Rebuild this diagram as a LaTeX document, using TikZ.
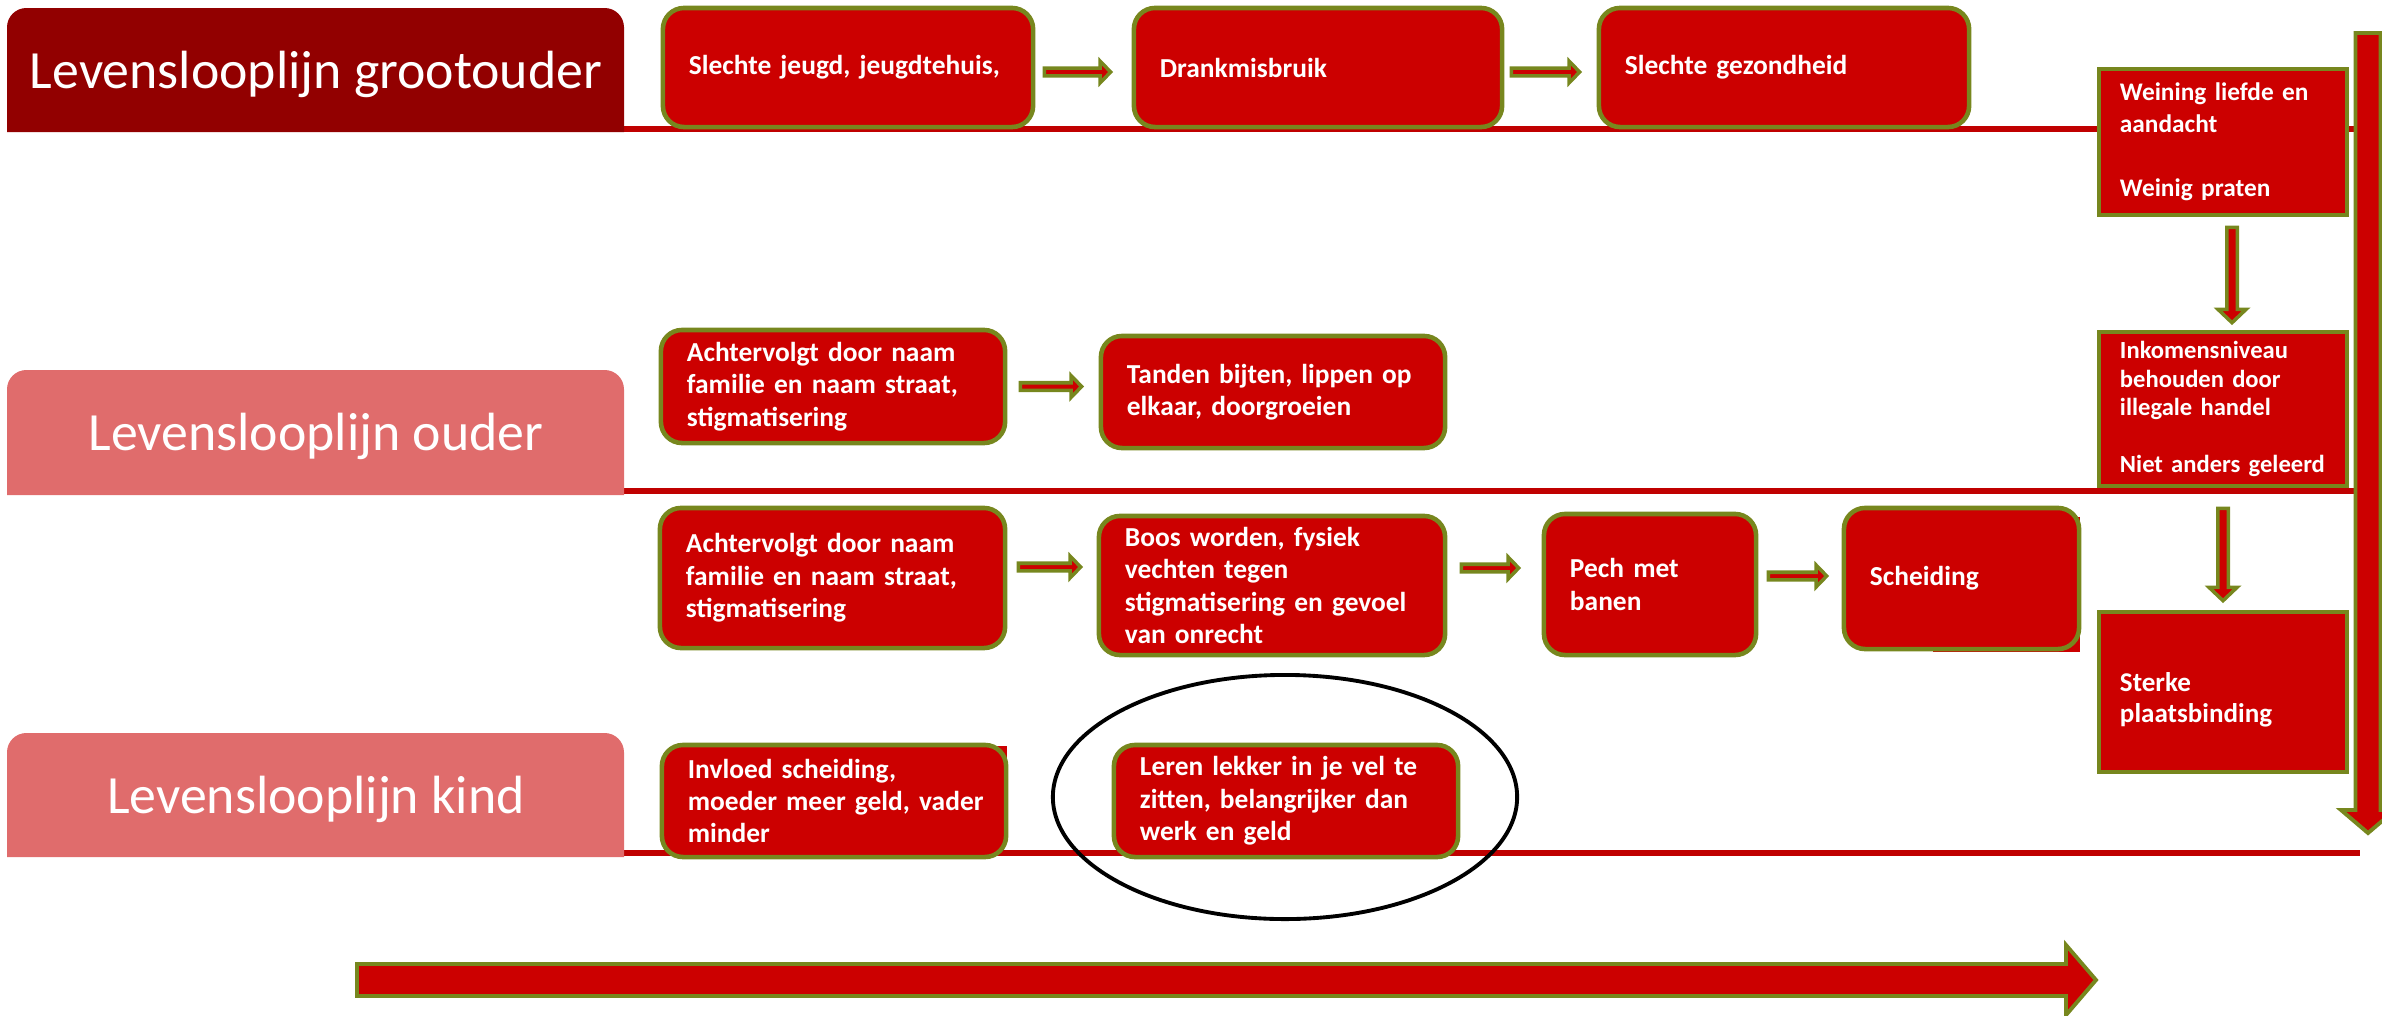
\documentclass[tikz,border=0pt]{standalone}
\usepackage{fontspec}
\setmainfont{Carlito}
\usetikzlibrary{calc}
\definecolor{boxred}{HTML}{CC0000}
\definecolor{linered}{HTML}{C00000}
\definecolor{olivebd}{HTML}{77871E}
\definecolor{darktitle}{HTML}{920000}
\definecolor{salmon}{HTML}{E06C6C}
\newcommand\harr[2]{\draw[blockarr] let \p1=#1, \p2=#2 in
  (\x1,\y1+1.07pt) -- (\x2-3pt,\y1+1.07pt) -- (\x2-3pt,\y1+3.1pt) -- (\x2,\y1) -- (\x2-3pt,\y1-3.1pt) -- (\x2-3pt,\y1-1.07pt) -- (\x1,\y1-1.07pt) -- cycle;}
\newcommand\varr[2]{\draw[blockarr] let \p1=#1, \p2=#2 in
  (\x1+1.5pt,\y1) -- (\x1+1.5pt,\y2+3.8pt) -- (\x1+4pt,\y2+3.8pt) -- (\x1,\y2) -- (\x1-4pt,\y2+3.8pt) -- (\x1-1.5pt,\y2+3.8pt) -- (\x1-1.5pt,\y1) -- cycle;}
\begin{document}
\begin{tikzpicture}[x=0.01cm,y=-0.01cm,
  box/.style={draw=olivebd,fill=boxred,line width=1.3pt,rounded corners=6pt,text=white,align=left,
    inner xsep=0.26cm,inner ysep=0pt,font=\bfseries\fontsize{7.8}{9.2}\selectfont},
  sqbox/.style={box,rounded corners=0pt,inner xsep=0.21cm},
  blockarr/.style={draw=olivebd,fill=boxred,line width=1pt},
  tline/.style={draw=linered,line width=1.7pt},
  titletext/.style={text=white,font=\fontsize{15.3}{18}\selectfont,anchor=base,inner sep=0pt}]
\useasboundingbox (0,0) rectangle (2382,1015);
\clip (0,0) rectangle (2382,1015);

% timeline rules
\draw[tline] (624,129) -- (2360,129);
\draw[tline] (624,491) -- (2360,491);
\draw[tline] (624,853) -- (2360,853);

% title boxes
\fill[darktitle] (7,132) [rounded corners=5.5pt] -- (7,8) -- (624,8) [sharp corners] -- (624,132) -- cycle;
\fill[salmon] (7,495) [rounded corners=5.5pt] -- (7,370) -- (624,370) [sharp corners] -- (624,495) -- cycle;
\fill[salmon] (7,857) [rounded corners=5.5pt] -- (7,733) -- (624,733) [sharp corners] -- (624,857) -- cycle;
\node[titletext] (t1) at (316,88) {Levenslooplijn grootouder};
\node[titletext] (t2) at (316,450) {Levenslooplijn ouder};
\node[titletext] (t3) at (316,813) {Levenslooplijn kind};

% shadow rectangles
\fill[boxred] (1933,517) rectangle (2080,652);
\fill[boxred] (900,746) rectangle (1007,800);

% row grootouder
\node[box,minimum width=3.70cm,minimum height=1.19cm,text width=3.18cm] (a1) at (848,67.5) {Slechte jeugd, jeugdtehuis,};
\node[box,minimum width=3.68cm,minimum height=1.19cm,text width=3.16cm] (a2) at (1318,67.5) {Drankmisbruik};
\node[box,minimum width=3.70cm,minimum height=1.19cm,text width=3.18cm] (a3) at (1784,67.5) {Slechte gezondheid};
\node[sqbox,minimum width=2.48cm,minimum height=1.46cm,text width=2.06cm,font=\bfseries\fontsize{7.2}{9.1}\selectfont] (w) at (2223,142)
  {\mbox{Weining liefde en}\\aandacht\\\mbox{}\\Weinig praten};

% row ouder
\node[box,minimum width=3.44cm,minimum height=1.13cm,text width=2.92cm] (b1) at (833,386.5) {Achtervolgt door naam\\familie en naam straat,\\stigmatisering};
\node[box,minimum width=3.44cm,minimum height=1.12cm,text width=2.92cm] (b2) at (1273,392) {Tanden bijten, lippen op\\elkaar, doorgroeien};
\node[sqbox,minimum width=2.48cm,minimum height=1.54cm,text width=2.06cm,font=\bfseries\fontsize{7.0}{8.1}\selectfont] (i) at (2223,409)
  {Inkomensniveau\\behouden door\\illegale handel\\\mbox{}\\\mbox{Niet anders geleerd}};

% middle row
\node[box,minimum width=3.45cm,minimum height=1.40cm,text width=2.93cm] (c1) at (832.5,578) {Achtervolgt door naam\\familie en naam straat,\\stigmatisering};
\node[box,minimum width=3.46cm,minimum height=1.39cm,text width=2.94cm] (c2) at (1272,585.5) {Boos worden, fysiek\\vechten tegen\\\mbox{stigmatisering en gevoel}\\van onrecht};
\node[box,minimum width=2.12cm,minimum height=1.41cm,text width=1.60cm] (c3) at (1650,584.5) {Pech met\\banen};
\node[box,minimum width=2.35cm,minimum height=1.41cm,text width=1.83cm] (c4) at (1961.5,578.5) {Scheiding};
\node[sqbox,minimum width=2.48cm,minimum height=1.60cm,text width=2.06cm,text height=10pt,font=\bfseries\fontsize{7.7}{8.8}\selectfont] (s) at (2223,692) {Sterke\\plaatsbinding};

% row kind
\node[box,minimum width=3.44cm,minimum height=1.12cm,text width=2.92cm] (d1) at (834,801) {Invloed scheiding,\\\mbox{moeder meer geld, vader}\\minder};
\node[box,minimum width=3.44cm,minimum height=1.12cm,text width=2.92cm] (d2) at (1286,801) {Leren lekker in je vel te\\zitten, belangrijker dan\\werk en geld};

% connectors
\harr{($(a1.east)+(9,4.5)$)}{($(a2.west)+(-21,4.5)$)}
\harr{($(a2.east)+(7,4.5)$)}{($(a3.west)+(-17,4.5)$)}
\harr{($(b1.east)+(13,0)$)}{($(b2.west)+(-17,0)$)}
\harr{($(c1.east)+(11,-11)$)}{($(c2.west)+(-16,0)$)}
\harr{($(c2.east)+(14,-17.5)$)}{($(c3.west)+(-23,0)$)}
\harr{($(c3.east)+(10,-8.5)$)}{($(c4.west)+(-15,0)$)}
\varr{($(w.south)+(9,10)$)}{($(i.north)+(9,-7)$)}
\varr{($(i.south)+(0,20)$)}{($(s.north)+(0,-9)$)}

% highlight ellipse
\draw[line width=1.1pt] (1285,797) ellipse [x radius=2.32cm, y radius=1.22cm];

% time arrows
\draw[blockarr,line width=1.1pt] (2355.5,33) -- (2355.5,810) -- (2341,810) -- (2368,833) -- (2395,810) -- (2380.5,810) -- (2380.5,33) -- cycle;
\draw[blockarr,line width=1.1pt] (357,964) -- (2066,964) -- (2066,945) -- (2096,980) -- (2066,1015) -- (2066,996) -- (357,996) -- cycle;
\end{tikzpicture}
\end{document}
